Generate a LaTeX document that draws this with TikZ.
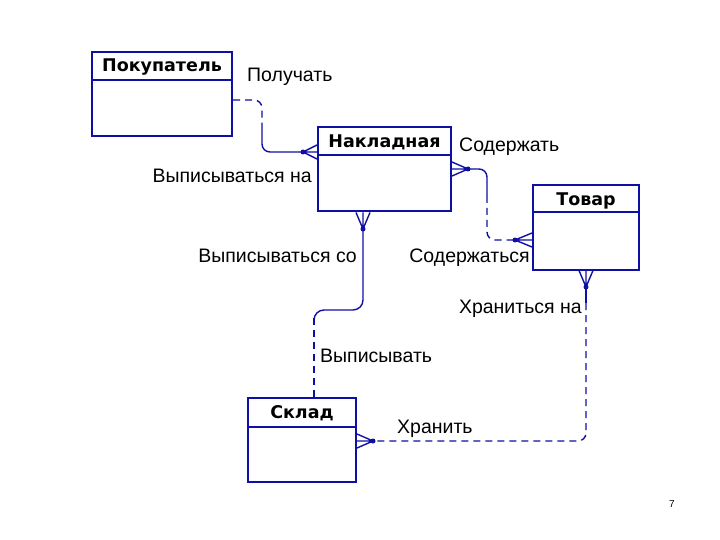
\documentclass[tikz,border=0pt]{standalone}
\usepackage{fontspec}
\setmainfont{Liberation Sans}
\newfontfamily\titlefont{DejaVu Sans}
\usetikzlibrary{calc}
\definecolor{erblue}{RGB}{15,15,165}

\begin{document}
\begin{tikzpicture}[x=1pt, y=-1pt,
    entity/.style={draw=erblue, line width=2pt, fill=white, inner sep=0pt, minimum height=84pt},
    title/.style={font=\titlefont\fontsize{17.5}{20}\selectfont\bfseries, inner sep=0pt, anchor=base},
    lbl/.style={font=\fontsize{19.5}{22}\selectfont, inner sep=0pt},
    rel/.style={draw=erblue, line width=1.4pt},
    opt/.style={rel, dash pattern=on 7pt off 5pt},
    dot/.style={circle, fill=erblue, inner sep=0pt, minimum size=5pt}]
    \useasboundingbox (0,0) rectangle (720,540);
    % Nodes
    \node[entity, minimum width=140pt] (pok) at (162,94) {};
    \node[entity, minimum width=133pt] (nak) at (384.5,169.5) {};
    \node[entity, minimum width=106pt] (tov) at (586,227.5) {};
    \node[entity, minimum width=108pt] (skl) at (302,440) {};
    \node[title] (pokT) at ($(pok.north)+(0,21)$) {Покупатель};
    \node[title] (nakT) at ($(nak.north)+(0,21)$) {Накладная};
    \node[title] (tovT) at ($(tov.north)+(0,21)$) {Товар};
    \node[title] (sklT) at ($(skl.north)+(0,21)$) {Склад};
    \draw[draw=erblue, line width=2pt] ($(pok.north west)+(0,29)$) -- ($(pok.north east)+(0,29)$);
    \draw[draw=erblue, line width=2pt] ($(nak.north west)+(0,29)$) -- ($(nak.north east)+(0,29)$);
    \draw[draw=erblue, line width=2pt] ($(tov.north west)+(0,28)$) -- ($(tov.north east)+(0,28)$);
    \draw[draw=erblue, line width=2pt] ($(skl.north west)+(0,30)$) -- ($(skl.north east)+(0,30)$);
    % Dots and bends
    \node[dot] (d1) at (303,152) {};
    \node[dot] (d2) at (468,169) {};
    \node[dot] (d3) at (515,240) {};
    \node[dot] (d4) at (363,229) {};
    \node[dot] (d5) at (586,287) {};
    \node[dot] (d6) at (373,441) {};
    \coordinate (m1) at (262,126);
    \coordinate (m2) at (487,196);
    \coordinate (m3) at (314,318);
    \coordinate (m4) at (586,303);
    % Crow's feet
    \draw[rel] (d1.center) -- ($(d1 -| nak.west)+(0,-7)$) (d1.center) -- (d1 -| nak.west) (d1.center) -- ($(d1 -| nak.west)+(0,7)$);
    \draw[rel] (d2.center) -- ($(d2 -| nak.east)+(0,-7)$) (d2.center) -- (d2 -| nak.east) (d2.center) -- ($(d2 -| nak.east)+(0,7)$);
    \draw[rel] (d3.center) -- ($(d3 -| tov.west)+(0,-7)$) (d3.center) -- (d3 -| tov.west) (d3.center) -- ($(d3 -| tov.west)+(0,7)$);
    \draw[rel] (d4.center) -- ($(d4 |- nak.south)+(-7,0)$) (d4.center) -- (d4 |- nak.south) (d4.center) -- ($(d4 |- nak.south)+(7,0)$);
    \draw[rel] (d5.center) -- ($(d5 |- tov.south)+(-7,0)$) (d5.center) -- (d5 |- tov.south) (d5.center) -- ($(d5 |- tov.south)+(7,0)$);
    \draw[rel] (d6.center) -- ($(d6 -| skl.east)+(0,-7)$) (d6.center) -- (d6 -| skl.east) (d6.center) -- ($(d6 -| skl.east)+(0,7)$);
    % Edges
    \draw[opt, rounded corners=8pt] (pok.east |- 0,100) -| (m1);
    \draw[rel, rounded corners=8pt] (m1) |- (d1.center);
    \draw[rel, rounded corners=8pt] (d2.center) -| (m2);
    \draw[opt, rounded corners=8pt] (m2) |- (d3.center);
    \draw[rel, rounded corners=10pt] (d4.center) |- (m3 |- 0,310) -- (m3);
    \draw[opt] (m3) -- (skl.north -| m3);
    \draw[rel] (d5.center) -- (m4);
    \draw[opt, rounded corners=8pt] (m4) |- (d6.center);
    % Labels
    \node[lbl, anchor=base west] (lPol) at (247,82) {Получать};
    \node[lbl, anchor=base east] (lVna) at (312,183) {Выписываться на};
    \node[lbl, anchor=base west] (lSod) at (459,152) {Содержать};
    \node[lbl, anchor=base east] (lSos) at (530,262) {Содержаться};
    \node[lbl, anchor=base east] (lVso) at (357,262) {Выписываться со};
    \node[lbl, anchor=base west] (lVyp) at (320,362) {Выписывать};
    \node[lbl, anchor=base east] (lHna) at (582,313) {Храниться на};
    \node[lbl, anchor=base west] (lHr) at (397,433) {Хранить};
    \node[font=\fontsize{10}{12}\selectfont, inner sep=0pt] (page) at (672,504) {7};
\end{tikzpicture}
\end{document}
